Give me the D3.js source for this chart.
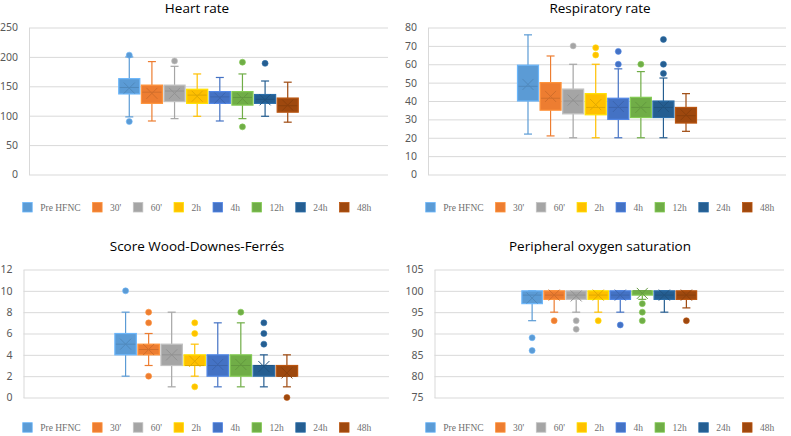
<!DOCTYPE html>
<html>
<head>
<meta charset="utf-8">
<script src="https://cdn.jsdelivr.net/npm/d3@7"></script>
<style>
  body { margin: 0; background: #fff; }
  svg { display: block; }
</style>
</head>
<body>
<script>
// series (time points)
const series = ["Pre HFNC", "30'", "60'", "2h", "4h", "12h", "24h", "48h"]
const colors = ["#5b9bd5", "#ed7d31", "#a5a5a5", "#ffc000", "#4472c4", "#70ad47", "#255e91", "#9e480e"]

// [whisker low, q1, median, q3, whisker high]
const hrBox = [[98,137,148,163,200],[91,121,140,152,192],[95,124,142,152,184],[99,121,135,145,171],
               [91,121,132,141,165],[95,118,131,141,171],[99,121,128,136,159],[89,106,117,130,157]]
const hrMean = [147,138,138,133,130,129,127,118]
const hrOut = [[90,203],[],[193],[],[],[191,81],[189],[]]
const hrTicks = [0,50,100,150,200,250]

const rrBox = [[22,40,48,59.5,76],[21,35,41.5,50,64.5],[20,33,40,46.5,60],[20,32.5,36.5,44,60],
               [20,30,36.5,41.5,57.5],[20,31,36.5,42,56],[20,31,36.5,40,52.5],[23.5,28,32,36.5,44]]
const rrMean = [49,42.5,40.5,38,37,36.5,37,32.5]
const rrOut = [[],[],[70],[65,69],[60,67],[60],[55,60,73.5],[]]
const rrTicks = [0,10,20,30,40,50,60,70,80]

const wdBox = [[2,4,5,6,8],[3,4,4.5,5,6],[1,3,4,5,8],[2,3,3,4,5],
               [1,2,3,4,7],[1,2,3,4,7],[1,2,3,3,4],[1,2,2,3,4]]
const wdMean = [5,4.5,4,3.4,3.1,3.1,2.9,2.3]
const wdOut = [[10],[2,7,8],[],[1,6,7],[],[8],[5,6,7],[0]]
const wdTicks = [0,2,4,6,8,10,12]

const spBox = [[93,97,99,100,100],[95,98,99,100,100],[95,98,99,100,100],[95,98,99,100,100],
               [95,98,99,100,100],[98,99,100,100,100],[95,98,99,100,100],[96,98,99,100,100]]
const spMean = [98.3,99,98.8,99,99,99.4,99,99]
const spOut = [[89,86],[93],[93,91],[93],[92],[97,95,93],[],[93]]
const spTicks = [75,80,85,90,95,100,105]

const panels = [
  {title: "Heart rate", cx: 197, ty: 12.5, left: 29, right: 388, top: 27.5, bottom: 174.5,
   box: hrBox, mean: hrMean, out: hrOut, ticks: hrTicks, ly: 202.5},
  {title: "Respiratory rate", cx: 600, ty: 12.5, left: 428, right: 786, top: 27.5, bottom: 174.5,
   box: rrBox, mean: rrMean, out: rrOut, ticks: rrTicks, ly: 202.5},
  {title: "Score Wood-Downes-Ferrés", cx: 197, ty: 251, left: 23.5, right: 389, top: 269.5, bottom: 397.5,
   box: wdBox, mean: wdMean, out: wdOut, ticks: wdTicks, ly: 422.7},
  {title: "Peripheral oxygen saturation", cx: 600, ty: 251, left: 434.5, right: 784, top: 269.5, bottom: 397.5,
   box: spBox, mean: spMean, out: spOut, ticks: spTicks, ly: 422.7}
]

const svg = d3.select("body").append("svg")
    .attr("width", 791)
    .attr("height", 436)

panels.forEach(p => {
    const g = svg.append("g")

    g.append("text")
        .attr("x", p.cx).attr("y", p.ty)
        .attr("text-anchor", "middle")
        .style("font-family", "'Open Sans', sans-serif")
        .style("font-size", "13.5px")
        .attr("fill", "#000")
        .text(p.title)

    const y = d3.scaleLinear()
        .domain([p.ticks[0], p.ticks[p.ticks.length - 1]])
        .range([p.bottom, p.top])

    const W = p.right - p.left
    const axis = g.append("g")
        .attr("transform", `translate(${p.left},0)`)
        .call(d3.axisLeft(y).tickValues(p.ticks).tickSizeInner(-W).tickSizeOuter(0).tickPadding(11))
    axis.select(".domain").attr("stroke", "#d9d9d9")
    axis.selectAll(".tick line").attr("stroke", "#d9d9d9")
    axis.selectAll(".tick text")
        .attr("fill", "#595959")
        .style("font-family", "'Noto Sans', sans-serif")
        .style("font-size", "10.5px")

    // one category, eight series side by side
    const xOuter = d3.scaleBand().domain(["all"]).range([p.left, p.right]).paddingOuter(0.5)
    const x = d3.scaleBand().domain(series)
        .range([xOuter("all"), xOuter("all") + xOuter.bandwidth()])
        .paddingInner(0.07)
    const bw = x.bandwidth()

    series.forEach((s, i) => {
        const c = colors[i]
        const light = d3.color(c).brighter(0.45).formatHex()
        const dark = d3.color(c).darker(0.35).formatHex()
        const [lo, q1, med, q3, hi] = p.box[i]
        const x0 = x(s), xc = x0 + bw / 2
        const sg = g.append("g")

        // whiskers
        sg.append("line").attr("x1", xc).attr("x2", xc).attr("y1", y(hi)).attr("y2", y(q3))
            .attr("stroke", c).attr("stroke-width", 1.2)
        sg.append("line").attr("x1", xc).attr("x2", xc).attr("y1", y(q1)).attr("y2", y(lo))
            .attr("stroke", c).attr("stroke-width", 1.2)
        ;[lo, hi].forEach(v => {
            sg.append("line").attr("x1", xc - 4).attr("x2", xc + 4).attr("y1", y(v)).attr("y2", y(v))
                .attr("stroke", c).attr("stroke-width", 1.2)
        })

        // box
        sg.append("rect")
            .attr("x", x0).attr("y", y(q3))
            .attr("width", bw).attr("height", Math.max(y(q1) - y(q3), 1))
            .attr("fill", c).attr("stroke", light).attr("stroke-width", 1.2)

        // median
        sg.append("line").attr("x1", x0 + 1).attr("x2", x0 + bw - 1).attr("y1", y(med)).attr("y2", y(med))
            .attr("stroke", dark).attr("stroke-width", 1)

        // mean marker
        const ym = y(p.mean[i]), h = 5.5
        sg.append("path")
            .attr("d", `M${xc - h},${ym - h}L${xc + h},${ym + h}M${xc - h},${ym + h}L${xc + h},${ym - h}`)
            .attr("stroke", dark).attr("stroke-width", 1).attr("fill", "none")

        // outliers
        sg.selectAll("circle")
            .data(p.out[i])
            .enter()
            .append("circle")
            .attr("cx", xc).attr("cy", d => y(d)).attr("r", 3)
            .attr("fill", c).attr("stroke", light).attr("stroke-width", 0.6)
    })

    // legend
    const lg = g.append("g")
    let lx = 0
    series.forEach((s, i) => {
        const it = lg.append("g").attr("transform", `translate(${lx},0)`)
        it.append("rect").attr("x", 0).attr("y", p.ly).attr("width", 9.5).attr("height", 9.5)
            .attr("fill", colors[i]).attr("stroke", d3.color(colors[i]).brighter(0.45).formatHex()).attr("stroke-width", 0.8)
        const t = it.append("text").attr("x", 17.5).attr("y", p.ly + 8)
            .style("font-family", "'Liberation Serif', 'DejaVu Serif', serif")
            .style("font-size", "9.5px")
            .attr("fill", "#6f6f6f")
            .text(s)
        lx += 17.5 + t.node().getComputedTextLength() + 12
    })
    const lw = lx - 12
    lg.attr("transform", `translate(${p.cx - lw / 2},0)`)
})
</script>
</body>
</html>
